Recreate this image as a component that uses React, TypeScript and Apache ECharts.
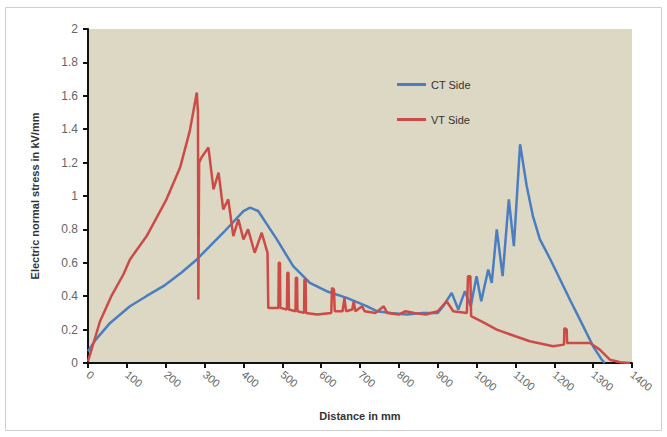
import React, { useEffect, useRef } from "react";
import * as echarts from "echarts";

const seriesNames = ["CT Side", "VT Side"];

const ctDistance = [0, 20, 57, 108, 150, 194, 240, 280, 348, 400, 417, 438, 486, 528, 571, 614, 666, 717, 743, 780, 820, 860, 900, 914, 936, 953, 970, 985, 1000, 1012, 1030, 1039, 1052, 1067, 1083, 1096, 1112, 1129, 1145, 1163, 1190, 1215, 1240, 1266, 1300, 1322, 1330];
const ctStress = [0.07, 0.14, 0.24, 0.34, 0.40, 0.46, 0.54, 0.62, 0.78, 0.91, 0.93, 0.91, 0.74, 0.58, 0.48, 0.43, 0.39, 0.34, 0.31, 0.30, 0.29, 0.30, 0.30, 0.34, 0.42, 0.32, 0.43, 0.34, 0.52, 0.37, 0.56, 0.48, 0.80, 0.52, 0.98, 0.70, 1.31, 1.06, 0.88, 0.74, 0.62, 0.50, 0.38, 0.26, 0.10, 0.02, 0];

const vtDistance = [0, 31, 60, 91, 108, 151, 202, 237, 262, 280, 283, 284, 286, 292, 310, 323, 336, 348, 361, 374, 387, 400, 412, 429, 447, 462, 464, 490, 491, 494, 495, 512, 513, 516, 517, 534, 535, 538, 539, 556, 557, 560, 561, 590, 626, 628, 633, 635, 655, 660, 664, 680, 684, 688, 705, 712, 740, 761, 770, 800, 817, 840, 870, 900, 923, 940, 975, 978, 984, 986, 1020, 1052, 1100, 1137, 1197, 1225, 1226, 1232, 1233, 1260, 1292, 1317, 1343, 1370, 1395];
const vtStress = [0.01, 0.25, 0.40, 0.53, 0.62, 0.76, 0.98, 1.17, 1.39, 1.62, 1.50, 0.38, 1.20, 1.23, 1.29, 1.04, 1.14, 0.92, 0.98, 0.76, 0.86, 0.74, 0.80, 0.66, 0.78, 0.66, 0.33, 0.33, 0.60, 0.60, 0.33, 0.32, 0.54, 0.54, 0.32, 0.31, 0.51, 0.51, 0.31, 0.30, 0.50, 0.50, 0.30, 0.29, 0.30, 0.45, 0.44, 0.31, 0.31, 0.39, 0.31, 0.32, 0.37, 0.31, 0.34, 0.31, 0.30, 0.34, 0.30, 0.29, 0.31, 0.30, 0.29, 0.31, 0.37, 0.31, 0.30, 0.52, 0.52, 0.28, 0.24, 0.20, 0.16, 0.13, 0.10, 0.11, 0.21, 0.20, 0.12, 0.12, 0.12, 0.08, 0.02, 0.005, 0];

const xTitle = "Distance in mm";
const yTitle = "Electric normal stress in kV/mm";

const zip = (xs: number[], ys: number[]) => xs.map((x, i) => [x, ys[i]]);

export default function App() {
  const ref = useRef<HTMLDivElement>(null);
  useEffect(() => {
    if (!ref.current) return;
    const chart = echarts.init(ref.current, undefined, { renderer: "svg" });
    const font = "Liberation Sans";
    chart.setOption({
      animation: false,
      backgroundColor: "#ffffff",
      graphic: [
        {
          type: "rect",
          shape: { x: 5.5, y: 7.5, width: 656, height: 423 },
          style: { fill: "none", stroke: "#cfcfcf", lineWidth: 1 },
          silent: true,
        },
      ],
      grid: {
        left: 88,
        right: 35,
        top: 29,
        bottom: 74,
        show: true,
        backgroundColor: "#ddd8c4",
        borderWidth: 0,
      },
      legend: {
        data: seriesNames,
        orient: "vertical",
        left: 397,
        top: 79,
        itemGap: 24,
        itemWidth: 29,
        itemHeight: 3,
        icon: "rect",
        padding: 0,
        textStyle: { fontFamily: font, fontSize: 11, color: "#333" },
      },
      xAxis: {
        type: "value",
        min: 0,
        max: 1400,
        interval: 100,
        name: xTitle,
        nameLocation: "middle",
        nameGap: 47,
        nameTextStyle: { fontFamily: font, fontSize: 11, color: "#333", fontWeight: "bold" },
        axisLine: { lineStyle: { color: "#111", width: 2 } },
        axisTick: { show: true, length: 5, lineStyle: { color: "#111", width: 2 } },
        axisLabel: {
          rotate: -40,
          fontFamily: font,
          fontSize: 11,
          color: "#666",
          margin: 10,
          formatter: (v: number) => String(v),
        },
        splitLine: { show: false },
      },
      yAxis: {
        type: "value",
        min: 0,
        max: 2,
        interval: 0.2,
        name: yTitle,
        nameLocation: "middle",
        nameRotate: 90,
        nameGap: 48,
        nameTextStyle: { fontFamily: font, fontSize: 11, color: "#333", fontWeight: "bold" },
        axisLine: { show: true, lineStyle: { color: "#111", width: 2 } },
        axisTick: { show: true, length: 5, lineStyle: { color: "#111", width: 2 } },
        axisLabel: {
          fontFamily: font,
          fontSize: 12,
          color: "#666",
          margin: 10,
          formatter: (v: number) => String(Math.round(v * 10) / 10),
        },
        splitLine: { show: false },
      },
      series: [
        {
          name: seriesNames[0],
          type: "line",
          data: zip(ctDistance, ctStress),
          showSymbol: false,
          color: "#4a7ec0",
          lineStyle: { width: 2.5, color: "#4a7ec0" },
          emphasis: { disabled: true },
        },
        {
          name: seriesNames[1],
          type: "line",
          data: zip(vtDistance, vtStress),
          showSymbol: false,
          color: "#cc4b47",
          lineStyle: { width: 2.5, color: "#cc4b47" },
          emphasis: { disabled: true },
        },
      ],
    });
    return () => chart.dispose();
  }, []);
  return (
    <div
      ref={ref}
      style={{ position: "fixed", left: 0, top: 0, width: 667, height: 437 }}
    />
  );
}
